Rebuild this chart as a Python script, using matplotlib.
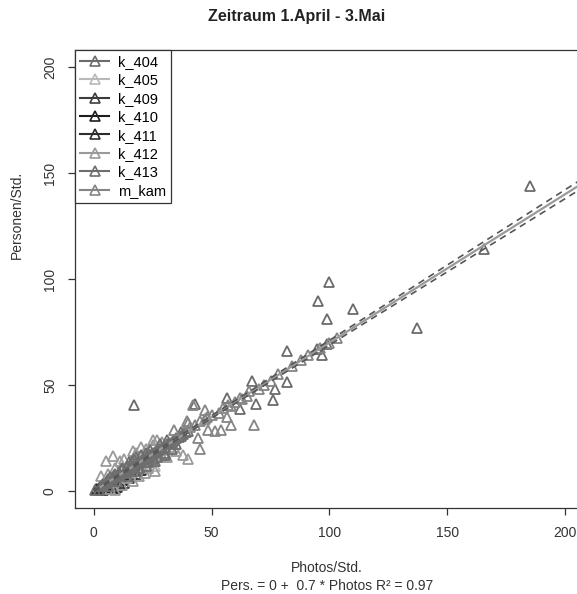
import matplotlib
matplotlib.use("Agg")
import matplotlib.pyplot as plt
from matplotlib.lines import Line2D
import numpy as np

plt.rcParams['font.family'] = ['Liberation Sans', 'DejaVu Sans']

# --- data ---
series = ["k_404", "k_405", "k_409", "k_410", "k_411", "k_412", "k_413", "m_kam"]
colors = ["#6b6b6b", "#b8b8b8", "#3c3c3c", "#1e1e1e", "#2d2d2d", "#9a9a9a", "#6e6e6e", "#858585"]

k404_x = [17, 185, 165.5, 137, 100, 95, 110, 99, 94.5, 99, 97, 82, 67, 82, 77, 76, 69, 62, 56.5, 43]
k404_y = [40.5, 144, 114, 77, 98.5, 89.5, 86, 81, 67, 69.5, 64, 66, 52, 51.5, 48, 43, 41, 38.5, 44, 41]

k405_x = [2, 4, 6.5, 9, 11.5, 14.5, 17.5, 21, 26]
k405_y = [1.5, 2.5, 3.5, 6.5, 7, 9, 10, 12.5, 12]

k409_x = [1, 3, 5, 7, 10, 13, 15, 18, 4, 11]
k409_y = [0.8, 1.8, 2.5, 1, 2, 4, 6, 8, 0.5, 3]

k410_x = [2.5, 4.5, 6, 8, 9, 12]
k410_y = [2, 3, 1.5, 5, 1.5, 5]

k411_x = [1.5, 3.5, 5.5, 9.5, 12.5, 16, 20]
k411_y = [1, 3, 4.5, 5.5, 7.5, 8, 10]

k412_x = [3, 5, 8, 11, 16.6, 20, 25, 25, 29, 34, 38, 40, 29, 26, 21.6, 16.6, 9, 12, 7, 14, 19, 23, 31, 35,
          6, 9, 13, 18, 22, 27]
k412_y = [7, 14, 16.7, 14, 19, 21, 24, 21.5, 23, 21, 17, 15, 16.7, 9.5, 8.6, 4.8, 0.5, 3, 1, 6, 7, 11, 16, 19,
          8, 11, 15, 18, 20, 24]

k413_x = [0.5, 3, 4, 5, 6, 7, 7.5, 8, 8.5, 9, 10, 10.5, 11, 12, 12, 13, 13.5, 14, 15, 15, 15.5, 16, 16, 17,
          17, 18, 18, 19, 19, 20, 20, 21, 22, 22, 23, 23, 24, 24, 25, 25, 26, 27, 27, 28, 28, 29, 30, 30,
          31, 31, 32, 33, 33, 34, 35, 35, 36, 37, 37, 38, 39, 40, 2, 6, 10, 14, 18, 22, 26, 30]
k413_y = [0.3, 2.5, 3.5, 4, 5.5, 6.5, 4.5, 6, 7.5, 8, 7, 9, 8, 10, 11, 8.5, 9, 12, 10.5, 13.5, 9.5, 11.5, 14, 12,
          15, 13, 16, 13.5, 11, 14, 17, 15, 15.5, 18, 16, 13.5, 17, 19.5, 18, 15, 18.5, 19, 16, 20, 22, 20.5, 21, 18,
          22, 24, 22.5, 23, 20, 24, 25, 22, 25.5, 26, 28, 27, 28, 28.5, 0.5, 2.5, 4.5, 7, 9.5, 12, 14, 17]

mkam_x = [47, 68, 58, 56.5, 48.5, 51.5, 54, 44, 45, 39.5, 60, 42, 34, 40, 41, 43, 45, 47, 48, 50, 53, 55,
          58, 62, 65, 70, 72, 75, 78, 84, 88, 91, 96, 100, 103, 63, 57, 66]
mkam_y = [38, 31, 31, 35, 29, 28.5, 29, 25, 20, 33, 42, 40.5, 29, 32, 30, 31, 33, 34, 35, 36, 37, 39,
          40, 44, 45, 48, 50, 52, 55, 59, 62, 64, 67.5, 70, 72, 43.5, 40.5, 47]

xs = [k404_x, k405_x, k409_x, k410_x, k411_x, k412_x, k413_x, mkam_x]
ys = [k404_y, k405_y, k409_y, k410_y, k411_y, k412_y, k413_y, mkam_y]

# fit and confidence band
intercept = 0.0
slope = 0.70
band_x = [0, 50, 100, 150, 210]
band_half = [0.3, 0.6, 1.1, 1.6, 2.2]

fig = plt.figure(figsize=(5.77, 5.94), dpi=100)
ax = fig.add_axes([75 / 577, 1 - 508 / 594, 509 / 577, 458 / 594])

for sx, sy, c in zip(xs, ys, colors):
    ax.plot(sx, sy, linestyle='none', marker='^', ms=7.5, mfc='none', mec=c, mew=1.3, zorder=2)

bx = np.array(band_x, dtype=float)
fit = intercept + slope * bx
ax.plot(bx, fit, color="#9a9a9a", lw=1.6, zorder=3)
ax.plot(bx, fit + np.array(band_half), color="#555555", lw=1.2, ls=(0, (4, 3)), zorder=3)
ax.plot(bx, fit - np.array(band_half), color="#555555", lw=1.2, ls=(0, (4, 3)), zorder=3)

ax.set_xlim(-8, 208)
ax.set_ylim(-8, 208)
ax.set_xticks([0, 50, 100, 150, 200])
ax.set_yticks([0, 50, 100, 150, 200])
ax.tick_params(direction='out', length=5, width=0.9, pad=8, labelsize=10,
               colors="#333333", labelcolor="#333333")
for lbl in ax.get_yticklabels():
    lbl.set_rotation(90)
    lbl.set_va('center')
for sp in ax.spines.values():
    sp.set_color("#333333")
    sp.set_linewidth(0.9)

handles = [Line2D([0], [0], color=c, lw=1.5, marker='^', ms=7, mfc='none', mec=c, mew=1.2)
           for c in colors]
leg = ax.legend(handles, series, loc='upper left', borderaxespad=0, fontsize=10.5,
                fancybox=False, framealpha=1, edgecolor="#333333", handlelength=2.0,
                labelspacing=0.3, borderpad=0.35, handletextpad=0.6)
leg.get_frame().set_linewidth(0.9)

fig.text(297 / 577, 1 - 17 / 594, "Zeitraum 1.April - 3.Mai", ha='center', va='center',
         fontsize=11.5, fontweight='bold', color="#222222")
fig.text(17 / 577, 1 - 215 / 594, "Personen/Std.", rotation=90, ha='center', va='center',
         fontsize=10, color="#333333")
fig.text(327 / 577, 1 - 568 / 594, "Photos/Std.", ha='center', va='center', fontsize=10, color="#333333")
fig.text(327 / 577, 1 - 586 / 594, "Pers. = 0 +  0.7 * Photos R\u00b2 = 0.97", ha='center', va='center',
         fontsize=10, color="#333333")

fig.savefig("out.png", dpi=100)
